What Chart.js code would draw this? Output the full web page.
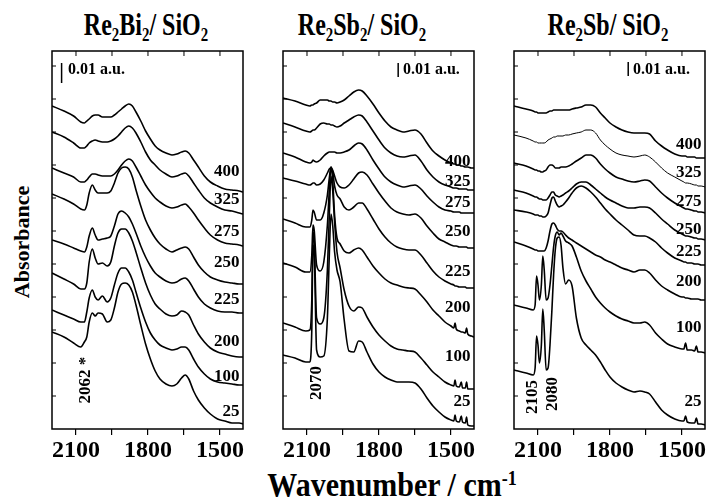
<!DOCTYPE html>
<html>
<head>
<meta charset="utf-8">
<script src="https://cdn.jsdelivr.net/npm/chart.js@4.4.0/dist/chart.umd.min.js"></script>
<style>
  body { margin: 0; width: 707px; height: 499px; background: #fff; position: relative; overflow: hidden;
         font-family: "Liberation Serif", "Times New Roman", serif; font-weight: bold; color: #000; }
  canvas { position: absolute; top: 47px; }
  .ttl { position: absolute; top: 15px; font-size: 24px; line-height: 24px; white-space: nowrap;
         transform: translateX(-50%) scaleY(1.3); transform-origin: 50% 20px; }
  .ttl sub { font-size: 62%; line-height: 0; vertical-align: -0.3em; }
  #ylab { position: absolute; left: 22px; top: 242px; font-size: 22px; line-height: 22px; white-space: nowrap;
          transform: translate(-50%, -50%) rotate(-90deg); }
  #xlab { position: absolute; left: 392px; top: 471px; font-size: 30px; line-height: 30px; white-space: nowrap;
          transform: translateX(-50%) scaleY(1.15); transform-origin: 50% 25px; }
  #xlab sup { font-size: 60%; line-height: 0; vertical-align: 0.55em; }
</style>
</head>
<body>
<div class="ttl" style="left:146px">Re<sub>2</sub>Bi<sub>2</sub>/ SiO<sub>2</sub></div>
<div class="ttl" style="left:362px">Re<sub>2</sub>Sb<sub>2</sub>/ SiO<sub>2</sub></div>
<div class="ttl" style="left:608px">Re<sub>2</sub>Sb/ SiO<sub>2</sub></div>
<div id="ylab">Absorbance</div>
<div id="xlab">Wavenumber / cm<sup>-1</sup></div>

<canvas id="c1" width="196" height="418" style="left:50px"></canvas>
<canvas id="c2" width="196" height="418" style="left:281px"></canvas>
<canvas id="c3" width="196" height="418" style="left:512px"></canvas>

<script>
// treatment temperatures, top to bottom
const temps = ['400', '325', '275', '250', '225', '200', '100', '25'];
const xTicks = [2100, 1950, 1800, 1650, 1500];

// Re2Bi2 / SiO2 (absorbance in offset units)
const biWn = [2200,2150,2110,2080,2065,2055,2045,2032,2020,2008,1990,1970,1955,1940,1925,1910,1895,1880,1865,1850,
              1830,1810,1790,1770,1750,1725,1700,1680,1660,1645,1630,1610,1590,1565,1540,1510,1480,1450,1420,1404];
const bi400 = [323,318,313,307,306,308,310,313,314,314,312,312,312,314,317,320,323,325,323,317,308,298,290,283,279,276,274,275,277,278,276,269,262,253,247,243,240,239,238,237];
const bi325 = [297,292,286,281,281,283,286,288,289,288,287,287,288,290,293,297,301,303,301,296,287,277,269,264,259,255,252,253,255,256,253,246,239,231,226,222,219,218,216,215];
const bi275 = [261,256,252,247,247,249,252,255,255,254,253,253,253,255,259,264,268,270,268,262,253,244,237,231,227,223,221,222,224,225,222,216,209,201,194,189,186,185,184,183];
const bi250 = [235,230,225,220,219,224,236,244,239,236,236,236,238,246,256,261,262,260,252,239,223,209,199,191,185,180,177,179,181,182,180,172,164,157,152,149,147,146,145,145];
const bi225 = [189,185,181,178,177,182,193,201,194,189,190,191,193,203,215,218,216,212,205,196,183,172,163,156,152,148,146,147,150,151,148,140,132,125,121,118,117,117,116,116];
const bi200 = [156,150,145,140,140,146,167,180,171,165,166,163,167,183,196,200,200,196,188,177,161,146,134,125,120,115,113,114,118,117,114,104,95,87,81,77,75,73,72,72];
const bi100 = [119,114,110,107,107,117,131,139,132,129,133,127,131,144,156,161,161,157,149,137,121,107,96,89,84,81,79,80,82,82,79,70,62,55,50,47,46,45,44,44];
const bi25  = [97,92,86,82,87,92,107,116,113,116,115,107,109,121,137,145,146,144,137,124,104,85,70,58,50,45,43,45,51,54,50,38,29,21,15,10,8,6,6,5];
const biLabelY = [257,229,197,166,129,87,52,17];

// Re2Sb2 / SiO2
const sbbWn = [2200,2150,2105,2088,2080,2075,2070,2060,2045,2030,2015,2007,2000,1993,1985,1975,1962,1945,1925,1905,
               1885,1870,1850,1825,1800,1775,1750,1725,1700,1675,1650,1625,1600,1575,1550,1525,1500,1488,1483,1478,
               1465,1457,1452,1440,1435,1430,1415,1404];
const sbb400 = [331,328,324,323,324,324,325,326,329,329,329,328,328,327,327,326,327,329,333,337,339,338,333,325,316,308,302,299,297,298,299,295,286,278,273,269,266,265,265,264,264,263,263,262,262,262,261,261];
const sbb325 = [306,302,298,297,298,299,299,301,305,306,305,305,304,304,303,302,303,306,309,312,314,313,307,298,289,281,276,273,272,273,274,268,259,252,247,244,242,241,241,241,240,240,240,240,240,239,239,239];
const sbb275 = [276,272,267,266,267,269,268,267,269,273,276,277,277,277,277,276,276,277,279,283,286,285,279,269,260,252,247,244,242,243,244,240,233,227,222,219,218,217,217,217,217,216,216,216,216,216,216,216];
const sbb250 = [251,248,245,244,245,246,246,244,245,249,256,260,261,259,253,246,242,241,244,250,256,257,254,245,236,228,221,217,215,214,215,211,203,196,190,187,184,183,183,183,182,182,182,182,182,181,181,181];
const sbb225 = [210,206,202,202,209,219,217,209,209,216,234,251,262,257,243,234,230,222,219,222,226,226,220,210,200,192,186,182,180,179,179,174,166,158,152,148,145,144,143,143,142,142,142,142,141,141,141,141];
const sbb200 = [166,162,157,157,174,204,199,164,158,167,204,239,262,249,214,191,185,178,176,179,181,179,172,163,156,150,146,144,142,141,140,134,127,119,113,107,103,101,106,100,98,97,97,96,101,95,93,92];
const sbb100 = [106,102,98,99,129,197,189,111,105,111,159,214,253,239,207,177,161,139,123,118,122,121,112,102,94,88,83,80,79,78,77,71,64,57,52,47,44,43,49,43,42,47,41,41,47,40,40,40];
const sbb25  = [74,71,67,67,99,184,177,79,72,73,111,174,215,204,177,159,147,109,78,77,88,87,77,65,57,52,49,47,47,47,46,40,31,23,17,12,9,8,14,8,7,13,7,6,12,4,3,3];
const sbbLabelY = [267,247,226,197,157,121,72,27];

// Re2Sb / SiO2
const sbWn = [2200,2150,2120,2112,2106,2100,2094,2086,2080,2074,2066,2058,2050,2042,2035,2028,2020,2012,2004,1996,
              1985,1972,1958,1940,1920,1900,1880,1860,1840,1820,1800,1775,1750,1725,1700,1675,1655,1635,1610,1585,
              1560,1530,1500,1492,1485,1478,1460,1447,1440,1433,1420,1404];
const sb400 = [323,320,318,317,317,316,316,316,316,316,316,317,318,318,319,319,319,319,319,319,319,319,320,321,322,324,324,322,316,311,306,302,299,297,296,296,296,295,288,283,279,275,273,273,273,272,272,272,271,271,271,271];
const sb325 = [294,291,288,287,287,286,286,286,286,286,287,289,290,291,292,292,293,293,293,293,294,294,295,296,297,299,299,296,289,284,280,276,274,273,272,273,274,272,267,261,256,252,248,247,246,246,245,244,244,243,243,242];
const sb275 = [266,263,260,259,259,258,258,257,257,258,259,262,264,264,263,261,261,261,262,262,262,263,265,268,271,274,274,271,265,260,256,252,250,248,247,248,249,248,242,236,231,226,222,221,220,220,219,218,218,217,217,216];
const sb250 = [239,236,233,232,232,231,230,230,229,229,229,231,234,237,237,234,233,232,233,234,236,238,241,245,247,247,244,240,236,232,229,226,223,221,221,222,222,221,216,210,205,199,195,194,193,193,192,191,191,190,190,189];
const sb225 = [219,217,215,214,214,214,213,213,212,212,213,216,224,231,232,228,224,222,223,224,227,231,236,241,243,241,237,232,226,220,215,209,204,199,194,193,193,191,187,181,176,171,168,167,167,166,166,165,165,165,164,164];
const sb200 = [187,183,180,179,179,178,178,178,178,178,181,188,198,205,206,204,200,198,198,197,194,191,189,186,183,180,177,174,172,169,167,164,161,159,157,159,159,156,149,143,139,135,132,132,131,131,130,130,130,130,129,129];
const sb100 = [124,121,119,124,153,144,129,144,173,159,129,131,144,164,182,193,197,194,196,193,188,186,183,172,158,148,140,132,126,121,117,113,110,108,106,106,107,104,96,90,85,82,80,80,86,79,79,78,83,77,77,76];
const sb25  = [59,56,54,61,93,84,66,84,120,99,59,61,84,119,154,179,191,192,184,161,145,149,143,111,91,84,79,74,67,59,52,46,42,39,37,38,37,35,27,19,14,10,8,8,13,7,6,6,11,5,5,4];
const sbLabelY = [284,256,227,199,177,147,101,27];

// peak notes [text, wavenumber, y] and 0.01 a.u. scale bars [x, y1, y2, text x, text y]
const biNotes = [['2062 *', 2062, 49]];
const sbbNotes = [['2070', 2062, 46]];
const sbNotes = [['2105', 2121, 32], ['2080', 2040, 35]];
const biBar = [2160, 346, 366, 2133, 359];
const sbbBar = [1720, 352, 366, 1700, 359];
const sbBar = [1724, 353, 367, 1704, 359];

const serif = '"Liberation Serif", "Times New Roman", serif';

const framePlugin = {
    id: 'frame',
    afterDraw(chart, args, opts) {
        const ctx = chart.ctx;
        const a = chart.chartArea;
        const x = chart.scales.x, y = chart.scales.y;
        ctx.save();
        ctx.strokeStyle = '#000';
        ctx.fillStyle = '#000';
        ctx.lineWidth = 1.5;
        ctx.strokeRect(a.left, a.top, a.right - a.left, a.bottom - a.top);

        // inward ticks on top and left
        ctx.lineWidth = 1;
        ctx.beginPath();
        xTicks.forEach(v => {
            const px = x.getPixelForValue(v);
            ctx.moveTo(px, a.top);
            ctx.lineTo(px, a.top + 5);
        });
        for (let v = 33; v < y.max; v += 33) {
            const py = y.getPixelForValue(v);
            ctx.moveTo(a.left, py);
            ctx.lineTo(a.left + 4, py);
        }
        ctx.stroke();

        // temperature labels
        ctx.font = 'bold 17px ' + serif;
        ctx.textAlign = 'right';
        ctx.textBaseline = 'middle';
        temps.forEach((t, i) => {
            ctx.fillText(t, x.getPixelForValue(1419), y.getPixelForValue(opts.labelY[i]));
        });

        // scale bar
        const b = opts.bar;
        ctx.lineWidth = 1.5;
        ctx.beginPath();
        ctx.moveTo(x.getPixelForValue(b[0]), y.getPixelForValue(b[1]));
        ctx.lineTo(x.getPixelForValue(b[0]), y.getPixelForValue(b[2]));
        ctx.stroke();
        ctx.font = 'bold 16px ' + serif;
        ctx.textAlign = 'left';
        ctx.fillText('0.01 a.u.', x.getPixelForValue(b[3]), y.getPixelForValue(b[4]));

        // rotated peak notes
        ctx.font = 'bold 17px ' + serif;
        ctx.textAlign = 'center';
        opts.notes.forEach(n => {
            ctx.save();
            ctx.translate(x.getPixelForValue(n[1]), y.getPixelForValue(n[2]));
            ctx.rotate(-Math.PI / 2);
            ctx.fillText(n[0], 0, 0);
            ctx.restore();
        });
        ctx.restore();
    }
};

function makePanel(id, wn, series, labelY, notes, bar, thin) {
    const ctx = document.getElementById(id).getContext('2d');
    const datasets = series.map((vals, i) => ({
        label: temps[i],
        data: wn.map((w, j) => ({x: w, y: vals[j]})),
        borderColor: '#000',
        borderWidth: thin === i ? 1 : 1.6,
        pointRadius: 0,
        fill: false,
        cubicInterpolationMode: 'monotone'
    }));

    return new Chart(ctx, {
        type: 'line',
        data: {datasets: datasets},
        plugins: [framePlugin],
        options: {
            responsive: false,
            animation: false,
            layout: {padding: {top: 4, left: 2, right: 3, bottom: 0}},
            plugins: {
                legend: {display: false},
                tooltip: {enabled: false},
                frame: {labelY: labelY, notes: notes, bar: bar}
            },
            scales: {
                x: {
                    type: 'linear',
                    reverse: true,
                    min: 1404,
                    max: 2200,
                    afterBuildTicks: s => { s.ticks = xTicks.map(v => ({value: v})); },
                    afterFit: s => { s.height = 36; },
                    ticks: {
                        autoSkip: false,
                        maxRotation: 0,
                        padding: 1,
                        color: '#000',
                        font: {family: serif, size: 24, weight: 'bold'},
                        callback: v => (v % 300 === 0 ? String(v) : '')
                    },
                    grid: {drawOnChartArea: false, drawTicks: true, tickLength: 6, color: '#000', lineWidth: 1.2},
                    border: {display: false}
                },
                y: {display: false, min: 0, max: 378}
            }
        }
    });
}

makePanel('c1', biWn, [bi400, bi325, bi275, bi250, bi225, bi200, bi100, bi25], biLabelY, biNotes, biBar, -1);
makePanel('c2', sbbWn, [sbb400, sbb325, sbb275, sbb250, sbb225, sbb200, sbb100, sbb25], sbbLabelY, sbbNotes, sbbBar, -1);
makePanel('c3', sbWn, [sb400, sb325, sb275, sb250, sb225, sb200, sb100, sb25], sbLabelY, sbNotes, sbBar, 1);
</script>
</body>
</html>
